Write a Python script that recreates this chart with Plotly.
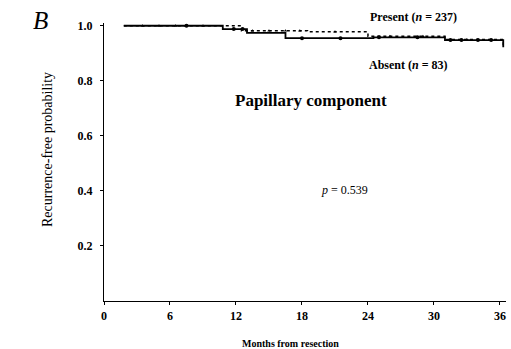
import plotly.graph_objects as go

# Kaplan-Meier step data (months from resection, recurrence-free probability)
present_time = [1.8, 12.5, 18.5, 24.0, 31.0, 36.3]
present_surv = [1.0, 0.982, 0.978, 0.962, 0.95, 0.925]
absent_time = [1.8, 10.8, 13.0, 16.5, 24.5, 31.0, 36.3]
absent_surv = [1.0, 0.988, 0.974, 0.955, 0.958, 0.948, 0.922]

# censored observations marked on the curves
present_cens_t = [3.5, 5.0, 6.5, 9.0, 13.5, 15.0, 16.5, 17.8, 21.0, 26.0, 29.0, 33.0]
absent_cens_t = [7.5, 11.8, 12.6, 18.0, 21.5, 25.0, 28.5, 31.5, 32.5, 34.0, 35.2]

x_ticks = [0, 6, 12, 18, 24, 30, 36]
y_ticks = [0.2, 0.4, 0.6, 0.8, 1.0]
y_tick_text = ["0.2", "0.4", "0.6", "0.8", "1.0"]


def step_value(times, surv, t):
    v = surv[0]
    for ti, si in zip(times, surv):
        if ti <= t:
            v = si
    return v


def step_xy(times, surv):
    xs, ys = [times[0]], [surv[0]]
    for i in range(1, len(times)):
        xs += [times[i], times[i]]
        ys += [surv[i - 1], surv[i]]
    return xs, ys


FONT = "Liberation Serif"
fig = go.Figure()

px_, py_ = step_xy(present_time, present_surv)
ax_, ay_ = step_xy(absent_time, absent_surv)

fig.add_trace(go.Scatter(x=px_, y=py_, mode="lines",
                         line=dict(color="black", width=1.5, dash="dot"),
                         showlegend=False, hoverinfo="skip"))
fig.add_trace(go.Scatter(x=ax_, y=ay_, mode="lines",
                         line=dict(color="black", width=1.8),
                         showlegend=False, hoverinfo="skip"))
fig.add_trace(go.Scatter(x=present_cens_t,
                         y=[step_value(present_time, present_surv, t) for t in present_cens_t],
                         mode="markers", marker=dict(symbol="triangle-up", size=3, color="black"),
                         showlegend=False, hoverinfo="skip", cliponaxis=False))
fig.add_trace(go.Scatter(x=absent_cens_t,
                         y=[step_value(absent_time, absent_surv, t) for t in absent_cens_t],
                         mode="markers", marker=dict(symbol="circle", size=4, color="black"),
                         showlegend=False, hoverinfo="skip", cliponaxis=False))

fig.update_layout(
    width=511, height=349,
    margin=dict(l=104, r=5, t=23, b=48),
    paper_bgcolor="white", plot_bgcolor="white",
    font=dict(family=FONT, color="black", size=11),
    xaxis=dict(range=[0, 36.55], tickvals=x_ticks, showline=True, linecolor="black",
               linewidth=1.2, ticks="outside", ticklen=3, tickcolor="black",
               showgrid=False, zeroline=False,
               tickfont=dict(family=FONT, size=12, color="black", weight="bold")),
    yaxis=dict(range=[0, 1.01], tickvals=y_ticks, ticktext=y_tick_text, showline=True,
               linecolor="black", linewidth=1.2, ticks="outside", ticklen=3,
               tickcolor="black", showgrid=False, zeroline=False, ticklabelstandoff=5,
               tickfont=dict(family=FONT, size=12, color="black", weight="bold")),
)

# axis titles
fig.add_annotation(text="Months from resection", xref="paper", yref="paper",
                   x=(290 - 104) / 402, y=-(343 - 301) / 278,
                   xanchor="center", yanchor="middle", showarrow=False,
                   font=dict(family=FONT, size=10, color="black", weight="bold"))
fig.add_annotation(text="Recurrence-free probability", xref="paper", yref="paper",
                   x=(47 - 104) / 402, y=(301 - 150) / 278, textangle=-90,
                   xanchor="center", yanchor="middle", showarrow=False,
                   font=dict(family=FONT, size=14, color="black"))

fig.add_annotation(text="<i>B</i>", xref="paper", yref="paper",
                   x=(40 - 104) / 402, y=(301 - 20) / 278,
                   xanchor="center", yanchor="middle", showarrow=False,
                   font=dict(family=FONT, size=25, color="black"))
fig.add_annotation(text="Present (<i>n</i> = 237)", xref="x", yref="paper", x=28.1,
                   y=(301 - 17) / 278, xanchor="center", yanchor="middle", showarrow=False,
                   font=dict(family=FONT, size=12, color="black", weight="bold"))
fig.add_annotation(text="Absent (<i>n</i> = 83)", xref="x", yref="y", x=27.7, y=0.857,
                   xanchor="center", yanchor="middle", showarrow=False,
                   font=dict(family=FONT, size=12, color="black", weight="bold"))
fig.add_annotation(text="Papillary component", xref="x", yref="y", x=18.8, y=0.73,
                   xanchor="center", yanchor="middle", showarrow=False,
                   font=dict(family=FONT, size=17, color="black", weight="bold"))
fig.add_annotation(text="<i>p</i> = 0.539", xref="x", yref="y", x=21.9, y=0.405,
                   xanchor="center", yanchor="middle", showarrow=False,
                   font=dict(family=FONT, size=12, color="black"))

fig.write_html("out.html")
